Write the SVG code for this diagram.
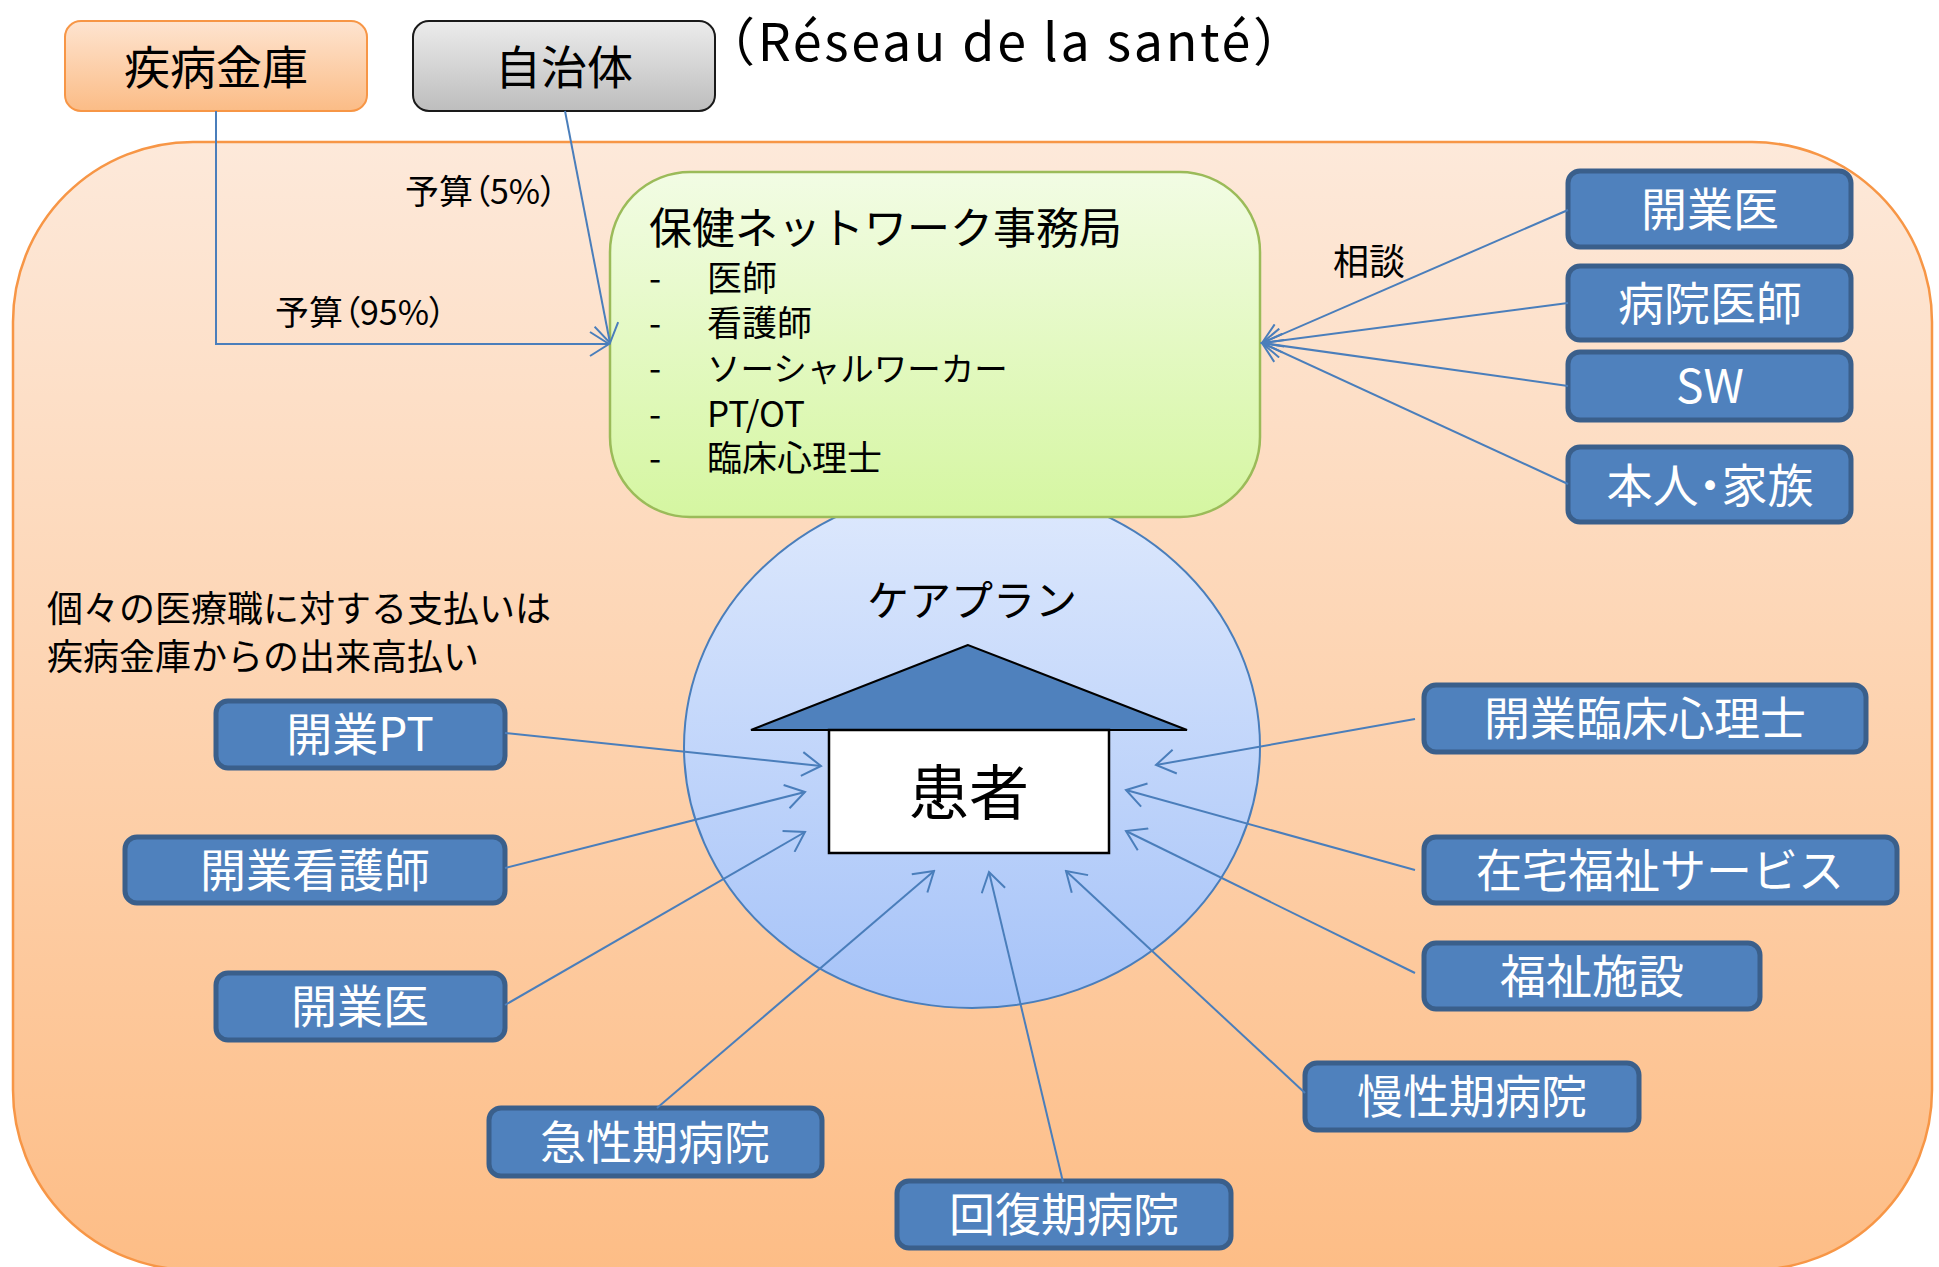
<svg xmlns="http://www.w3.org/2000/svg" width="1939" height="1267" viewBox="0 0 1939 1267">
<defs>
<linearGradient id="gOuter" gradientUnits="userSpaceOnUse" x1="0" y1="142" x2="0" y2="1270">
<stop offset="0" stop-color="#fde9da"/><stop offset="1" stop-color="#fdbd86"/>
</linearGradient>
<linearGradient id="gJ" x1="0" y1="0" x2="0" y2="1">
<stop offset="0" stop-color="#fee4d0"/><stop offset="1" stop-color="#fbbc86"/>
</linearGradient>
<linearGradient id="gGray" x1="0" y1="0" x2="0" y2="1">
<stop offset="0" stop-color="#ececec"/><stop offset="1" stop-color="#bdbdbd"/>
</linearGradient>
<linearGradient id="gGreen" x1="0" y1="0" x2="0" y2="1">
<stop offset="0" stop-color="#f2fce4"/><stop offset="1" stop-color="#d5f6a1"/>
</linearGradient>
<linearGradient id="gEll" x1="0" y1="0" x2="0" y2="1">
<stop offset="0" stop-color="#dee9fd"/><stop offset="1" stop-color="#a6c3f8"/>
</linearGradient>
<marker id="arr" markerUnits="userSpaceOnUse" viewBox="0 0 22 26" refX="20" refY="13" markerWidth="22" markerHeight="26" orient="auto">
<path d="M1,1 L20,13 L1,25" fill="none" stroke="#4a7ebb" stroke-width="2"/>
</marker>
<style>
text{font-family:"Noto Sans CJK JP","Noto Sans",sans-serif;}
.bx{fill:#4f81bd;stroke:#3a5f8b;stroke-width:5;}
.bt{fill:#ffffff;font-size:46px;text-anchor:middle;}
.lbl{fill:#000;}
.ln{stroke:#4a7ebb;stroke-width:2;fill:none;marker-end:url(#arr);}
.palt{font-feature-settings:"palt";}
</style>
</defs>

<g id="network-area">
<rect x="13" y="142" width="1919" height="1128" rx="180" ry="180" fill="url(#gOuter)" stroke="#f79646" stroke-width="2.5"/>
</g>

<g id="title">
<text x="703" y="61" font-size="52" textLength="602" lengthAdjust="spacing" fill="#000">（Réseau de la santé）</text>
</g>

<g id="shippei-kinko">
<rect x="65" y="21" width="302" height="90" rx="16" fill="url(#gJ)" stroke="#f79646" stroke-width="2"/>
<text x="216" y="84" font-size="46" text-anchor="middle" fill="#000">疾病金庫</text>
</g>

<g id="jichitai">
<rect x="413" y="21" width="302" height="90" rx="16" fill="url(#gGray)" stroke="#1a1a1a" stroke-width="2"/>
<text x="564" y="84" font-size="46" text-anchor="middle" fill="#000">自治体</text>
</g>

<g id="careplan">
<ellipse cx="972" cy="747" rx="288" ry="261" fill="url(#gEll)" stroke="#4a7ebb" stroke-width="2"/>
<text x="972" y="616" font-size="42" text-anchor="middle" fill="#000">ケアプラン</text>
</g>

<g id="jimukyoku">
<rect x="610" y="172" width="650" height="345" rx="80" ry="80" fill="url(#gGreen)" stroke="#9bbb59" stroke-width="2.5"/>
<text font-size="35" fill="#000"><tspan x="649" y="244" font-size="43">保健ネットワーク事務局</tspan><tspan x="649" y="291">-</tspan><tspan x="707" y="291">医師</tspan><tspan x="649" y="336">-</tspan><tspan x="707" y="336">看護師</tspan><tspan x="649" y="381">-</tspan><tspan x="707" y="381" font-size="33.5">ソーシャルワーカー</tspan><tspan x="649" y="427">-</tspan><tspan x="707" y="427">PT/OT</tspan><tspan x="649" y="471">-</tspan><tspan x="707" y="471">臨床心理士</tspan></text>
</g>

<g id="patient">
<polygon points="968,645 751,730 1187,730" fill="#4f81bd" stroke="#000" stroke-width="2"/>
<rect x="829" y="730" width="280" height="123" fill="#ffffff" stroke="#000" stroke-width="2.5"/>
<text x="969" y="815" font-size="60" text-anchor="middle" fill="#000">患者</text>
</g>

<g id="labels">
<text class="lbl palt" x="405" y="204" font-size="34">予算（5%）</text>
<text class="lbl palt" x="275" y="325" font-size="34">予算（95%）</text>
<text class="lbl" x="1333" y="275" font-size="36">相談</text>
<text class="lbl" font-size="36"><tspan x="47" y="622">個々の医療職に対する支払いは</tspan><tspan x="47" y="670">疾病金庫からの出来高払い</tspan></text>
</g>

<g id="r-kaigyoui"><rect class="bx" x="1568" y="171" width="283" height="76" rx="12"/><text class="bt" x="1710" y="226">開業医</text></g>
<g id="r-byoinishi"><rect class="bx" x="1568" y="266" width="283" height="74" rx="12"/><text class="bt" x="1710" y="320">病院医師</text></g>
<g id="r-sw"><rect class="bx" x="1568" y="352" width="283" height="68" rx="12"/><text class="bt" x="1710" y="403">SW</text></g>
<g id="r-honnin"><rect class="bx" x="1568" y="447" width="283" height="75" rx="12"/><text class="bt palt" x="1710" y="502">本人・家族</text></g>

<g id="l-kaigyopt"><rect class="bx" x="216" y="701" width="289" height="67" rx="12"/><text class="bt" x="360" y="751">開業PT</text></g>
<g id="l-kaigyokango"><rect class="bx" x="125" y="837" width="380" height="66" rx="12"/><text class="bt" x="315" y="887">開業看護師</text></g>
<g id="l-kaigyoui"><rect class="bx" x="216" y="973" width="289" height="67" rx="12"/><text class="bt" x="360" y="1023">開業医</text></g>
<g id="b-kyusei"><rect class="bx" x="489" y="1108" width="333" height="68" rx="12"/><text class="bt" x="655" y="1159">急性期病院</text></g>
<g id="b-kaifuku"><rect class="bx" x="897" y="1181" width="334" height="67" rx="12"/><text class="bt" x="1064" y="1231">回復期病院</text></g>
<g id="b-mansei"><rect class="bx" x="1305" y="1063" width="334" height="67" rx="12"/><text class="bt" x="1472" y="1113">慢性期病院</text></g>
<g id="r-rinsho"><rect class="bx" x="1424" y="685" width="442" height="67" rx="12"/><text class="bt" x="1645" y="735">開業臨床心理士</text></g>
<g id="r-zaitaku"><rect class="bx" x="1424" y="837" width="473" height="66" rx="12"/><text class="bt" x="1660" y="887">在宅福祉サービス</text></g>
<g id="r-fukushi"><rect class="bx" x="1424" y="943" width="336" height="66" rx="12"/><text class="bt" x="1592" y="993">福祉施設</text></g>

<g id="connectors">
<polyline class="ln" points="216,111 216,344 609,344"/>
<line class="ln" x1="565" y1="111" x2="610" y2="343"/>
<line class="ln" x1="1568" y1="210" x2="1262" y2="343"/>
<line class="ln" x1="1568" y1="303" x2="1262" y2="343"/>
<line class="ln" x1="1568" y1="386" x2="1262" y2="343"/>
<line class="ln" x1="1568" y1="484" x2="1262" y2="343"/>
<line class="ln" x1="505" y1="733" x2="821" y2="766"/>
<line class="ln" x1="505" y1="868" x2="805" y2="792"/>
<line class="ln" x1="505" y1="1005" x2="805" y2="832"/>
<line class="ln" x1="657" y1="1108" x2="934" y2="871"/>
<line class="ln" x1="1063" y1="1182" x2="989" y2="872"/>
<line class="ln" x1="1305" y1="1093" x2="1066" y2="871"/>
<line class="ln" x1="1415" y1="719" x2="1156" y2="765"/>
<line class="ln" x1="1415" y1="870" x2="1126" y2="790"/>
<line class="ln" x1="1415" y1="973" x2="1126" y2="831"/>
</g>
</svg>
